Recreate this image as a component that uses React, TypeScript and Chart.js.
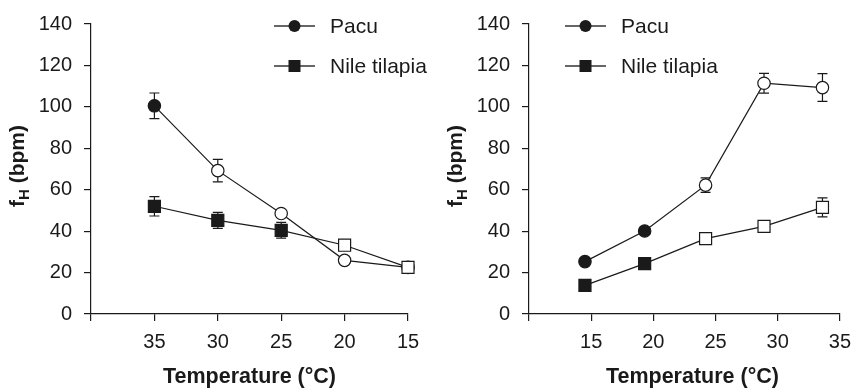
import React, { useEffect, useRef } from "react";
import { Chart, registerables } from "chart.js";

Chart.register(...registerables);

// ---------- data ----------
const seriesNames = ["Pacu", "Nile tilapia"];

const leftTemps = [35, 30, 25, 20, 15];
const leftPacu = [100.5, 69.2, 48.5, 25.9, 22.5];
const leftPacuErr = [6.2, 5.4, 1.8, 0, 0];
const leftPacuFilled = [true, false, false, false, false];
const leftTilapia = [52, 45.2, 40.4, 33.2, 22.5];
const leftTilapiaErr = [4.7, 3.9, 3.8, 0, 0];
const leftTilapiaFilled = [true, true, true, false, false];

const rightTemps = [14.5, 19.3, 24.2, 28.9, 33.6];
const rightPacu = [25.3, 40.1, 62.2, 111.4, 109.3];
const rightPacuErr = [0.8, 1.5, 3.5, 4.8, 6.7];
const rightPacuFilled = [true, true, false, false, false];
const rightTilapia = [13.8, 24.3, 36.4, 42.3, 51.5];
const rightTilapiaErr = [0.8, 0.8, 0.8, 0.8, 4.6];
const rightTilapiaFilled = [true, true, false, false, false];

const yMin = 0;
const yMax = 140;
const yStep = 20;
const xStep = 5;
const leftXRange = [15, 40];
const rightXRange = [10, 35];
const hiddenXLabels = [40, 10];

const xTitle = "Temperature (°C)";
const yTitleMain = "f";
const yTitleSub = "H";
const yTitleRest = " (bpm)";

// ---------- styles ----------
const INK = "#1a1a1a";
const FONT = "'Liberation Sans', Arial, Helvetica, sans-serif";
const TICK_SIZE = 20;

// ---------- plugins ----------
const errorBarPlugin = {
  id: "errorBars",
  beforeDatasetsDraw(chart: any) {
    const ctx = chart.ctx;
    const xs = chart.scales.x;
    const ys = chart.scales.y;
    ctx.save();
    ctx.strokeStyle = INK;
    ctx.lineWidth = 1.2;
    chart.data.datasets.forEach((ds: any) => {
      const errs: number[] = ds.errors || [];
      ds.data.forEach((pt: any, i: number) => {
        const e = errs[i];
        if (!e) return;
        const px = xs.getPixelForValue(pt.x);
        const top = ys.getPixelForValue(pt.y + e);
        const bot = ys.getPixelForValue(pt.y - e);
        const cap = 5;
        ctx.beginPath();
        ctx.moveTo(px, top);
        ctx.lineTo(px, bot);
        ctx.moveTo(px - cap, top);
        ctx.lineTo(px + cap, top);
        ctx.moveTo(px - cap, bot);
        ctx.lineTo(px + cap, bot);
        ctx.stroke();
      });
    });
    ctx.restore();
  },
};

const decorPlugin = {
  id: "decor",
  afterDraw(chart: any, _args: any, opts: any) {
    const ctx = chart.ctx;
    const area = chart.chartArea;
    ctx.save();
    ctx.fillStyle = INK;

    // legend
    const lx = area.left + opts.legendX;
    chart.data.datasets.forEach((ds: any, i: number) => {
      const ly = area.top + 2 + i * 40;
      ctx.strokeStyle = "#333";
      ctx.lineWidth = 1.4;
      ctx.beginPath();
      ctx.moveTo(lx, ly);
      ctx.lineTo(lx + 41, ly);
      ctx.stroke();
      ctx.fillStyle = INK;
      if (ds.pointStyle === "rect") {
        ctx.fillRect(lx + 20.5 - 6, ly - 6, 12, 12);
      } else {
        ctx.beginPath();
        ctx.arc(lx + 20.5, ly, 6, 0, Math.PI * 2);
        ctx.fill();
      }
      ctx.font = `21px ${FONT}`;
      ctx.textBaseline = "middle";
      ctx.textAlign = "left";
      ctx.fillText(ds.label, lx + 56, ly + 1);
    });

    // x title
    ctx.font = `bold 21.5px ${FONT}`;
    ctx.textAlign = "center";
    ctx.textBaseline = "middle";
    ctx.fillText(xTitle, (area.left + area.right) / 2 + opts.xTitleShift, 377);

    // y title with subscript
    const cx = area.left - 74;
    const cy = (area.top + area.bottom) / 2 - 3;
    ctx.translate(cx, cy);
    ctx.rotate(-Math.PI / 2);
    const big = `bold 21px ${FONT}`;
    const small = `bold 15px ${FONT}`;
    ctx.font = big;
    const w1 = ctx.measureText(yTitleMain).width;
    const w3 = ctx.measureText(yTitleRest).width;
    ctx.font = small;
    const w2 = ctx.measureText(yTitleSub).width;
    const total = w1 + w2 + w3;
    let x = -total / 2;
    ctx.textAlign = "left";
    ctx.textBaseline = "alphabetic";
    ctx.font = big;
    ctx.fillText(yTitleMain, x, 7);
    x += w1;
    ctx.font = small;
    ctx.fillText(yTitleSub, x, 12);
    x += w2;
    ctx.font = big;
    ctx.fillText(yTitleRest, x, 7);
    ctx.restore();
  },
};

// ---------- config builder ----------
function makeDataset(
  label: string,
  xs: number[],
  ys: number[],
  errs: number[],
  filled: boolean[],
  style: string,
  order: number
) {
  return {
    label,
    data: xs.map((x, i) => ({ x, y: ys[i] })),
    errors: errs,
    borderColor: INK,
    borderWidth: 1.2,
    pointStyle: style,
    pointRadius: style === "rect" ? 8.5 : 6.2,
    pointBorderColor: INK,
    pointBorderWidth: 1.2,
    pointBackgroundColor: filled.map((f) => (f ? INK : "#ffffff")),
    showLine: true,
    fill: false,
    tension: 0,
    clip: false,
    order,
  };
}

function makeConfig(
  temps: number[],
  pacu: number[],
  pacuErr: number[],
  pacuFilled: boolean[],
  tila: number[],
  tilaErr: number[],
  tilaFilled: boolean[],
  range: number[],
  reverse: boolean,
  yWidth: number,
  padRight: number,
  legendX: number,
  xTitleShift: number
): any {
  return {
    type: "scatter",
    data: {
      datasets: [
        makeDataset(seriesNames[0], temps, pacu, pacuErr, pacuFilled, "circle", 1),
        makeDataset(seriesNames[1], temps, tila, tilaErr, tilaFilled, "rect", 0),
      ],
    },
    options: {
      responsive: false,
      animation: false,
      devicePixelRatio: 1,
      layout: { padding: { left: 0, top: 21, right: padRight, bottom: 0 } },
      plugins: {
        legend: { display: false },
        tooltip: { enabled: false },
        decor: { legendX, xTitleShift },
      },
      scales: {
        x: {
          type: "linear",
          min: range[0],
          max: range[1],
          reverse,
          afterFit: (s: any) => {
            s.height = 74;
          },
          border: { display: true, color: INK, width: 1.2 },
          grid: {
            display: true,
            drawOnChartArea: false,
            drawTicks: true,
            tickLength: 7,
            color: INK,
            lineWidth: 1.2,
          },
          ticks: {
            stepSize: xStep,
            color: INK,
            padding: 9,
            maxRotation: 0,
            font: { family: FONT, size: TICK_SIZE },
            callback: (v: number) => (hiddenXLabels.includes(v) ? "" : String(v)),
          },
        },
        y: {
          type: "linear",
          min: yMin,
          max: yMax,
          afterFit: (s: any) => {
            s.width = yWidth;
          },
          border: { display: true, color: INK, width: 1.2 },
          grid: {
            display: true,
            drawOnChartArea: false,
            drawTicks: true,
            tickLength: 7,
            color: INK,
            lineWidth: 1.2,
          },
          ticks: {
            stepSize: yStep,
            color: INK,
            padding: 12,
            font: { family: FONT, size: TICK_SIZE },
          },
        },
      },
    },
    plugins: [errorBarPlugin, decorPlugin],
  };
}

function Panel({ config }: { config: any }) {
  const ref = useRef<HTMLCanvasElement>(null);
  useEffect(() => {
    const chart = new Chart(ref.current as HTMLCanvasElement, config);
    return () => chart.destroy();
  }, []);
  return (
    <canvas
      ref={ref}
      width={430}
      height={388}
      style={{ display: "block", width: 430, height: 388 }}
    />
  );
}

export default function App() {
  const left = makeConfig(
    leftTemps, leftPacu, leftPacuErr, leftPacuFilled,
    leftTilapia, leftTilapiaErr, leftTilapiaFilled,
    leftXRange, true, 91, 22, 183, 0
  );
  const right = makeConfig(
    rightTemps, rightPacu, rightPacuErr, rightPacuFilled,
    rightTilapia, rightTilapiaErr, rightTilapiaFilled,
    rightXRange, false, 99, 13, 36, 8
  );
  return (
    <div
      style={{
        position: "absolute",
        left: 0,
        top: 0,
        width: 860,
        height: 388,
        display: "flex",
        background: "#ffffff",
      }}
    >
      <Panel config={left} />
      <Panel config={right} />
    </div>
  );
}
